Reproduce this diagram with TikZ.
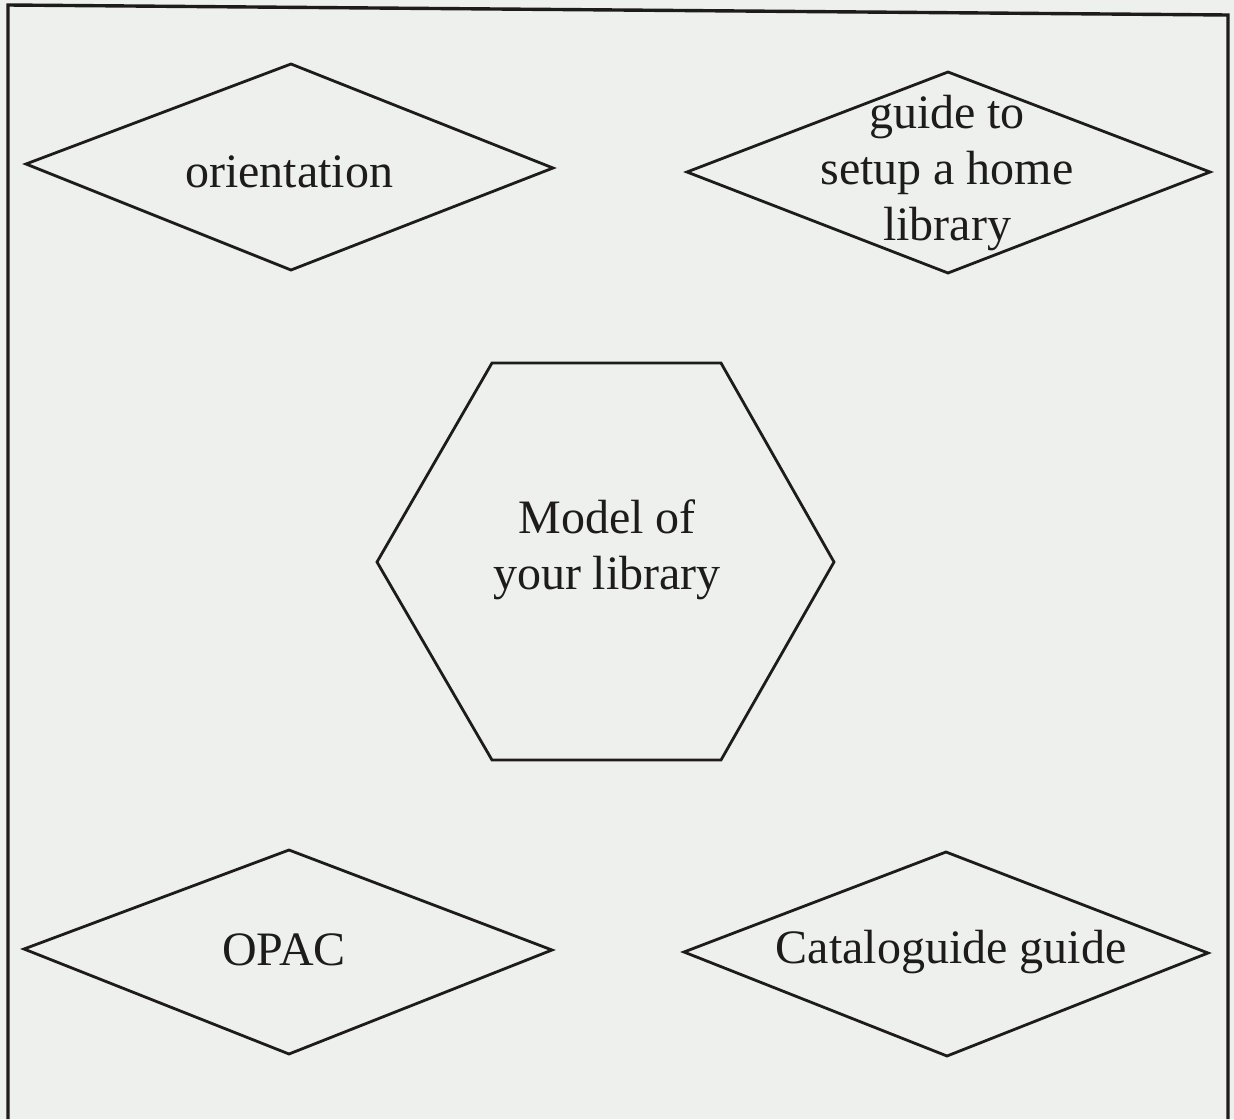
\documentclass[tikz,border=0pt]{standalone}
\usepackage{fontspec}
\setmainfont{Liberation Serif}
\definecolor{paper}{HTML}{EEF0ED}
\definecolor{ink}{HTML}{1E1B1C}
\begin{document}
\begin{tikzpicture}[x=1pt,y=-1pt,
  outline/.style={draw=ink, line width=2.8pt, line join=miter},
  lbl/.style={font=\fontsize{48}{56}\selectfont, align=center, inner sep=0pt, text=ink}]
\fill[paper] (0,0) rectangle (1234,1119);
\useasboundingbox (0,0) rectangle (1234,1119);
% frame
\draw[draw=ink, line width=3.4pt] (8,1119) -- (8,5) -- (1228,15) -- (1228,1119);
% orientation
\draw[outline] (26,164) -- (291,64) -- (553,168) -- (291,270) -- cycle;
\node[lbl, anchor=base] (orient) at (289,187) {orientation};
% guide to setup a home library
\draw[outline] (687,172) -- (948,72) -- (1210,172) -- (948,273) -- cycle;
\node[lbl] (guide) at (947,173) {guide to\\setup a home\\library};
% hexagon
\draw[outline] (492,363) -- (721,363) -- (834,562) -- (721,760) -- (492,760) -- (377,562) -- cycle;
\node[lbl] (model) at (607,550) {Model of\\your library};
% OPAC
\draw[outline] (24,949) -- (289,850) -- (552,950) -- (289,1054) -- cycle;
\node[lbl, anchor=base] (opac) at (284,965) {OPAC};
% Cataloguide guide
\draw[outline] (684,952) -- (946,852) -- (1208,953) -- (947,1056) -- cycle;
\node[lbl, anchor=base] (catalog) at (951,963) {Cataloguide guide};
\end{tikzpicture}
\end{document}
